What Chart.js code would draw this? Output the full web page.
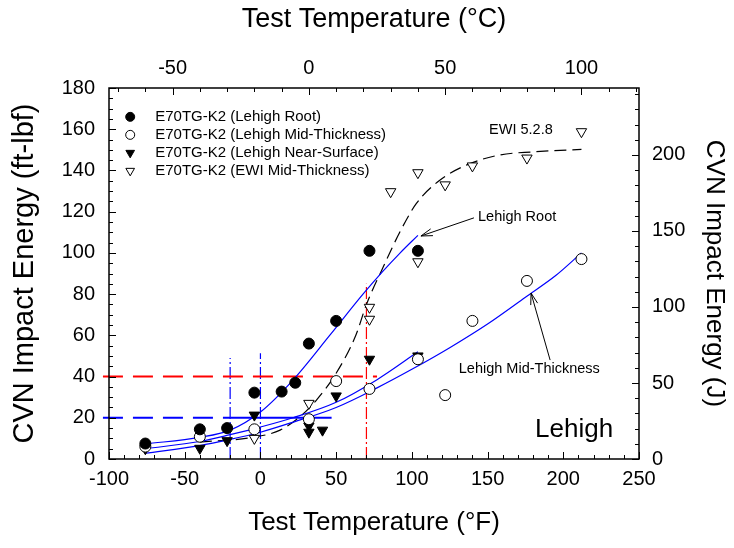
<!DOCTYPE html>
<html>
<head>
<meta charset="utf-8">
<script src="https://cdn.jsdelivr.net/npm/chart.js@4.4.1/dist/chart.umd.min.js"></script>
<style>
body { margin: 0; background: #fff; }
#wrap { width: 734px; height: 548px; }
</style>
</head>
<body>
<div id="wrap"><canvas id="cvn" width="734" height="548"></canvas></div>
<script>
// ===============================
// CVN impact energy vs temperature
// ===============================

// measured points (°F, ft-lbf)
const rootTemp = [-76, -40, -22, -4, 14, 23, 32, 50, 72, 104];
const rootEnergy = [7.5, 14.4, 15, 32.2, 32.7, 37, 56, 67, 101, 101];

const midTemp = [-76, -40, -4, 32, 50, 72, 104, 122, 140, 176, 212];
const midEnergy = [6, 10.8, 14.4, 19.3, 37.8, 34, 48.4, 31, 67, 86.4, 97];

const nearTemp = [-76, -40, -22, -4, 32, 32, 41, 50, 72, 104];
const nearEnergy = [5, 5.2, 8.9, 21.3, 16, 13, 14, 30.6, 48.4, 50];

const ewiTemp = [-4, 32, 72, 72, 86, 104, 104, 122, 140, 176, 212];
const ewiEnergy = [10, 27, 73.6, 67.8, 129.7, 138.9, 95.7, 133, 142.2, 146, 158.8];

// fitted curves
const rootFitTemp = [-76, -40, -20, 0, 21.5, 46, 68, 80.5, 92, 104];
const rootFitEnergy = [7.3, 10.5, 14, 22.8, 38.3, 60.2, 80.2, 90.8, 99.8, 108.5];

const nearFitTemp = [-76, -40, -20, 0, 21.5, 50, 77, 104];
const nearFitEnergy = [5, 8.5, 11.8, 15.5, 20, 27.5, 38.5, 52];

const midFitTemp = [-76, -40, -20, 0, 20, 50, 77, 100, 125, 150, 175, 195, 212];
const midFitEnergy = [2.8, 6.5, 9.5, 13, 17.5, 25, 34.5, 43.5, 54, 65.5, 78.5, 89, 100];

const ewiFitTemp = [-40, -5, 13, 26, 37, 50, 63, 70, 81, 92, 103, 118, 136, 158, 180, 212];
const ewiFitEnergy = [8.2, 10.5, 14, 20.5, 28.6, 41.6, 60, 75, 93, 110, 124, 135, 142.6, 147.5, 149, 150.2];

// reference lines (transition temps at 20 and 40 ft-lbf)
const red40Temp = [-104, 77];
const red40Energy = [40, 40];
const redVertTemp = [70, 70];
const redVertEnergy = [0, 85];
const blue20DashTemp = [-104, -20];
const blue20SolidTemp = [-20, 47];
const blue20Energy = [20, 20];
const blueVert1Temp = [-20, -20];
const blueVert1Energy = [0, 49];
const blueVert2Temp = [0, 0];
const blueVert2Energy = [0, 51.3];

// axis ticks
const tickF = [-100, -50, 0, 50, 100, 150, 200, 250];
const tickC = [-50, 0, 50, 100];
const tickFtlb = [0, 20, 40, 60, 80, 100, 120, 140, 160, 180];
const tickJ = [0, 50, 100, 150, 200];

const legendLabels = [
    "E70TG-K2 (Lehigh Root)",
    "E70TG-K2 (Lehigh Mid-Thickness)",
    "E70TG-K2 (Lehigh Near-Surface)",
    "E70TG-K2 (EWI Mid-Thickness)"
];

const FT_TO_J = 1.35582;
const FONT = "'Liberation Sans', Arial, sans-serif";

function pts(xs, ys) {
    return xs.map((x, i) => ({ x: x, y: ys[i] }));
}

function markers(label, xs, ys, style, filled) {
    return {
        label: label,
        data: pts(xs, ys),
        showLine: false,
        pointStyle: style,
        pointRotation: style === "triangle" ? 180 : 0,
        pointRadius: style === "triangle" ? 6 : 5.5,
        pointBorderWidth: 1,
        pointBorderColor: "#000",
        pointBackgroundColor: filled ? "#000" : "#fff",
        order: 1
    };
}

function curve(xs, ys, color, width, dash) {
    return {
        label: "",
        data: pts(xs, ys),
        borderColor: color,
        borderWidth: width,
        borderDash: dash || [],
        pointRadius: 0,
        fill: false,
        tension: 0,
        clip: false,
        order: 2
    };
}

function smooth(xs, ys, color, width, dash) {
    const d = curve(xs, ys, color, width, dash);
    d.cubicInterpolationMode = "monotone";
    return d;
}

const datasets = [
    markers(legendLabels[0], rootTemp, rootEnergy, "circle", true),
    markers(legendLabels[1], midTemp, midEnergy, "circle", false),
    markers(legendLabels[2], nearTemp, nearEnergy, "triangle", true),
    markers(legendLabels[3], ewiTemp, ewiEnergy, "triangle", false),

    smooth(rootFitTemp, rootFitEnergy, "#0000ff", 1.2),
    smooth(nearFitTemp, nearFitEnergy, "#0000ff", 1.2),
    smooth(midFitTemp, midFitEnergy, "#0000ff", 1.2),
    smooth(ewiFitTemp, ewiFitEnergy, "#000", 1.2, [12, 6]),

    curve(red40Temp, red40Energy, "#ff0000", 2, [20, 10]),
    curve(redVertTemp, redVertEnergy, "#ff0000", 1.2, [12, 3, 2, 3]),
    curve(blue20DashTemp, blue20Energy, "#0000ff", 2, [20, 10]),
    curve(blue20SolidTemp, blue20Energy, "#0000ff", 2),
    curve(blueVert1Temp, blueVert1Energy, "#0000ff", 1.2, [12, 3, 2, 3]),
    curve(blueVert2Temp, blueVert2Energy, "#0000ff", 1.2, [12, 3, 2, 3])
];

// frame, inward ticks, legend and notes
const decorPlugin = {
    id: "decor",
    afterDraw(chart) {
        const ctx = chart.ctx;
        const a = chart.chartArea;
        const sx = chart.scales.x;
        const sy = chart.scales.y;
        const sc = chart.scales.xTop;
        const sj = chart.scales.yRight;

        ctx.save();
        ctx.strokeStyle = "#000";
        ctx.lineWidth = 1.5;
        ctx.strokeRect(a.left, a.top, a.right - a.left, a.bottom - a.top);

        ctx.lineWidth = 1;
        ctx.beginPath();
        for (let v = -100; v <= 250; v += 10) {
            const p = Math.round(sx.getPixelForValue(v)) + 0.5;
            const len = v % 50 === 0 ? 7 : 4;
            ctx.moveTo(p, a.bottom);
            ctx.lineTo(p, a.bottom - len);
        }
        for (let v = -70; v <= 120; v += 10) {
            const p = Math.round(sc.getPixelForValue(v)) + 0.5;
            const len = v % 50 === 0 ? 7 : 4;
            ctx.moveTo(p, a.top);
            ctx.lineTo(p, a.top + len);
        }
        for (let v = 0; v <= 180; v += 5) {
            const p = Math.round(sy.getPixelForValue(v)) + 0.5;
            const len = v % 20 === 0 ? 7 : 4;
            ctx.moveTo(a.left, p);
            ctx.lineTo(a.left + len, p);
        }
        for (let v = 0; v <= 240; v += 10) {
            const p = Math.round(sj.getPixelForValue(v)) + 0.5;
            const len = v % 50 === 0 ? 7 : 4;
            ctx.moveTo(a.right, p);
            ctx.lineTo(a.right - len, p);
        }
        ctx.stroke();

        // legend
        ctx.font = "15px " + FONT;
        ctx.textBaseline = "middle";
        ctx.textAlign = "left";
        const lx = sx.getPixelForValue(-86);
        let ly = sy.getPixelForValue(166);
        for (let i = 0; i < 4; i++) {
            const ds = chart.data.datasets[i];
            ctx.fillStyle = ds.pointBackgroundColor;
            ctx.strokeStyle = "#000";
            ctx.lineWidth = 1;
            Chart.helpers.drawPoint(ctx, {
                pointStyle: ds.pointStyle,
                rotation: ds.pointRotation,
                radius: ds.pointStyle === "triangle" ? 5 : 4.5,
                borderWidth: 1
            }, lx, ly);
            ctx.fillStyle = "#000";
            ctx.fillText(ds.label, lx + 25, ly);
            ly += 18;
        }

        // notes
        ctx.font = "14.5px " + FONT;
        ctx.fillText("EWI 5.2.8", sx.getPixelForValue(151), sy.getPixelForValue(159.6));
        ctx.fillText("Lehigh Root", sx.getPixelForValue(143.7), sy.getPixelForValue(117.4));
        ctx.fillText("Lehigh Mid-Thickness", sx.getPixelForValue(131), sy.getPixelForValue(43.7));
        ctx.font = "26px " + FONT;
        ctx.fillText("Lehigh", sx.getPixelForValue(181.4), sy.getPixelForValue(14));

        arrow(ctx, sx.getPixelForValue(141), sy.getPixelForValue(117),
              sx.getPixelForValue(106), sy.getPixelForValue(108.2));
        arrow(ctx, sx.getPixelForValue(191.3), sy.getPixelForValue(48),
              sx.getPixelForValue(178.7), sy.getPixelForValue(80.5));
        ctx.restore();
    }
};

function arrow(ctx, x1, y1, x2, y2) {
    const ang = Math.atan2(y2 - y1, x2 - x1);
    ctx.strokeStyle = "#000";
    ctx.lineWidth = 1;
    ctx.beginPath();
    ctx.moveTo(x1, y1);
    ctx.lineTo(x2, y2);
    ctx.moveTo(x2 - 12 * Math.cos(ang - 0.3), y2 - 12 * Math.sin(ang - 0.3));
    ctx.lineTo(x2, y2);
    ctx.lineTo(x2 - 12 * Math.cos(ang + 0.3), y2 - 12 * Math.sin(ang + 0.3));
    ctx.stroke();
}

const tickFont = { family: FONT, size: 20 };
const titleFont = { family: FONT, size: 26 };

function only(list) {
    return function (axis) {
        axis.ticks = list.map(v => ({ value: v }));
    };
}

new Chart(document.getElementById("cvn"), {
    type: "line",
    data: { datasets: datasets },
    plugins: [decorPlugin],
    options: {
        responsive: false,
        animation: false,
        devicePixelRatio: 1,
        layout: { padding: 0 },
        plugins: {
            legend: { display: false },
            tooltip: { enabled: false }
        },
        scales: {
            x: {
                type: "linear",
                position: "bottom",
                min: -100,
                max: 250,
                afterBuildTicks: only(tickF),
                afterFit: s => { s.height = 89; },
                grid: { display: false, drawTicks: false },
                border: { display: false },
                ticks: { font: tickFont, color: "#000", padding: 8, maxRotation: 0 },
                title: { display: true, text: "Test Temperature (°F)", font: titleFont, color: "#000", padding: { top: 4, bottom: 10 } }
            },
            xTop: {
                type: "linear",
                position: "top",
                min: (-100 - 32) * 5 / 9,
                max: (250 - 32) * 5 / 9,
                afterBuildTicks: only(tickC),
                afterFit: s => { s.height = 88; },
                grid: { display: false, drawTicks: false },
                border: { display: false },
                ticks: { font: tickFont, color: "#000", padding: 8, maxRotation: 0 },
                title: { display: true, text: "Test Temperature (°C)", font: { family: FONT, size: 27 }, color: "#000", padding: { top: 3, bottom: 4 } }
            },
            y: {
                type: "linear",
                position: "left",
                min: 0,
                max: 180,
                afterBuildTicks: only(tickFtlb),
                afterFit: s => { s.width = 109; },
                grid: { display: false, drawTicks: false },
                border: { display: false },
                ticks: { font: tickFont, color: "#000", padding: 14 },
                title: { display: true, text: "CVN Impact Energy (ft-lbf)", font: { family: FONT, size: 29 }, color: "#000", padding: { top: 8, bottom: 4 } }
            },
            yRight: {
                type: "linear",
                position: "right",
                min: 0,
                max: 180 * FT_TO_J,
                afterBuildTicks: only(tickJ),
                afterFit: s => { s.width = 95; },
                grid: { display: false, drawTicks: false },
                border: { display: false },
                ticks: { font: tickFont, color: "#000", padding: 13 },
                title: { display: true, text: "CVN Impact Energy (J)", font: titleFont, color: "#000", padding: { top: 4, bottom: 4 } }
            }
        }
    }
});
</script>
</body>
</html>
